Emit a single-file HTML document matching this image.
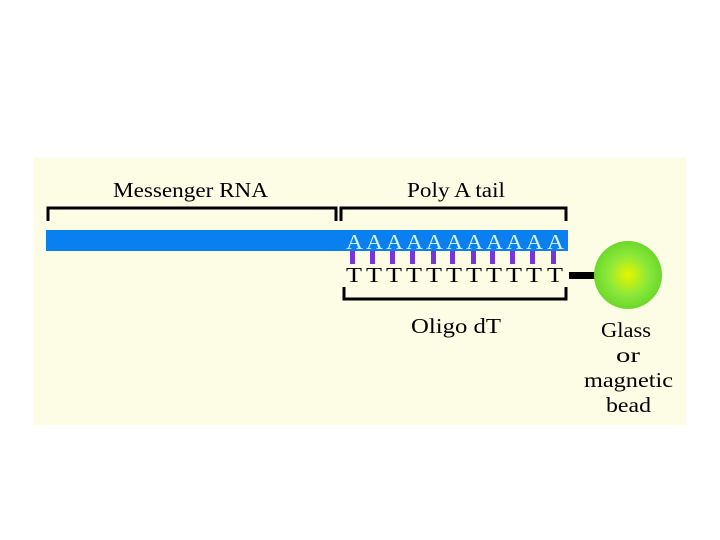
<!DOCTYPE html>
<html><head><meta charset="utf-8"><style>
html,body{margin:0;padding:0;background:#fff;width:720px;height:540px;overflow:hidden}
svg{display:block}
text{font-family:"Liberation Serif",serif;fill:#000}
.a text{fill:#d8f4ff}
</style></head><body>
<svg width="720" height="540" viewBox="0 0 720 540">
<defs>
<radialGradient id="g" cx="0.5" cy="0.5" r="0.5">
<stop offset="0" stop-color="#e6f500"/><stop offset="0.6" stop-color="#8ae83a"/><stop offset="1" stop-color="#6cd82a"/>
</radialGradient>
</defs>
<rect x="34" y="158" width="652" height="267" fill="#fdfde6"/>
<text x="113" y="197" font-size="21" textLength="155" lengthAdjust="spacingAndGlyphs">Messenger RNA</text>
<text x="407" y="197" font-size="21" textLength="98" lengthAdjust="spacingAndGlyphs">Poly A tail</text>
<path d="M48 221 V208 H336 V221 M341 221 V208 H566 V221" fill="none" stroke="#000" stroke-width="3"/>
<rect x="46" y="230" width="522" height="21" fill="#0a7ff0"/>
<g class="a" font-size="21">
<text x="346" y="249" textLength="17" lengthAdjust="spacingAndGlyphs">A</text><text x="366" y="249" textLength="17" lengthAdjust="spacingAndGlyphs">A</text><text x="386" y="249" textLength="17" lengthAdjust="spacingAndGlyphs">A</text><text x="406" y="249" textLength="17" lengthAdjust="spacingAndGlyphs">A</text><text x="426" y="249" textLength="17" lengthAdjust="spacingAndGlyphs">A</text><text x="446" y="249" textLength="17" lengthAdjust="spacingAndGlyphs">A</text><text x="466" y="249" textLength="17" lengthAdjust="spacingAndGlyphs">A</text><text x="486" y="249" textLength="17" lengthAdjust="spacingAndGlyphs">A</text><text x="506" y="249" textLength="17" lengthAdjust="spacingAndGlyphs">A</text><text x="526" y="249" textLength="17" lengthAdjust="spacingAndGlyphs">A</text><text x="547" y="249" textLength="17" lengthAdjust="spacingAndGlyphs">A</text>
</g>
<g fill="#7a35d8">
<rect x="350" y="251" width="5" height="13"/><rect x="370" y="251" width="5" height="13"/><rect x="390" y="251" width="5" height="13"/><rect x="410" y="251" width="5" height="13"/><rect x="431" y="251" width="5" height="13"/><rect x="450" y="251" width="5" height="13"/><rect x="471" y="251" width="5" height="13"/><rect x="490" y="251" width="5" height="13"/><rect x="510" y="251" width="5" height="13"/><rect x="530" y="251" width="5" height="13"/><rect x="551" y="251" width="5" height="13"/>
</g>
<g font-size="21">
<text x="346" y="282" textLength="16" lengthAdjust="spacingAndGlyphs">T</text><text x="366" y="282" textLength="16" lengthAdjust="spacingAndGlyphs">T</text><text x="386" y="282" textLength="16" lengthAdjust="spacingAndGlyphs">T</text><text x="406" y="282" textLength="16" lengthAdjust="spacingAndGlyphs">T</text><text x="426" y="282" textLength="16" lengthAdjust="spacingAndGlyphs">T</text><text x="446" y="282" textLength="16" lengthAdjust="spacingAndGlyphs">T</text><text x="466" y="282" textLength="16" lengthAdjust="spacingAndGlyphs">T</text><text x="486" y="282" textLength="16" lengthAdjust="spacingAndGlyphs">T</text><text x="506" y="282" textLength="16" lengthAdjust="spacingAndGlyphs">T</text><text x="526" y="282" textLength="16" lengthAdjust="spacingAndGlyphs">T</text><text x="547" y="282" textLength="16" lengthAdjust="spacingAndGlyphs">T</text>
</g>
<path d="M344 287 V299 H566 V287" fill="none" stroke="#000" stroke-width="3"/>
<rect x="569" y="272" width="26" height="7" fill="#000"/>
<circle cx="628" cy="275" r="34" fill="url(#g)"/>
<text x="411" y="333" font-size="21" textLength="90" lengthAdjust="spacingAndGlyphs">Oligo dT</text>
<text x="601" y="337" font-size="21" textLength="50" lengthAdjust="spacingAndGlyphs">Glass</text>
<text x="616" y="362" font-size="21" textLength="24" lengthAdjust="spacingAndGlyphs">or</text>
<text x="584" y="387" font-size="21" textLength="89" lengthAdjust="spacingAndGlyphs">magnetic</text>
<text x="606" y="412" font-size="21" textLength="45" lengthAdjust="spacingAndGlyphs">bead</text>
</svg>
</body></html>
